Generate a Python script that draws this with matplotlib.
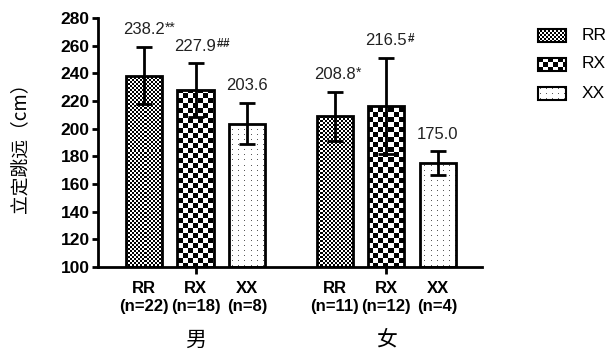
import numpy as np
import matplotlib
matplotlib.use("Agg")
import matplotlib.pyplot as plt
from matplotlib.patches import Rectangle
from matplotlib.transforms import blended_transform_factory

plt.rcParams['font.family'] = ['Liberation Sans', 'Noto Sans CJK SC', 'DejaVu Sans']
plt.rcParams['mathtext.fontset'] = 'custom'
plt.rcParams['mathtext.rm'] = 'Liberation Sans'
plt.rcParams['mathtext.bf'] = 'Liberation Sans:bold'

# ---------------- data ----------------
groups = ['男', '女']
genotypes = ['RR', 'RX', 'XX']
male_means = [238.2, 227.9, 203.6]
male_sd = [20.7, 19.3, 15.0]
male_n = [22, 18, 8]
male_marks = ['**', '##', '']
female_means = [208.8, 216.5, 175.0]
female_sd = [17.8, 34.8, 8.5]
female_n = [11, 12, 4]
female_marks = ['*', '#', '']
yticks = list(range(100, 281, 20))
ylabel = '立定跳远（cm）'

# ---------------- patterns ----------------
def checker(h, w, cell):
    yy, xx = np.mgrid[0:h, 0:w]
    return (((yy // cell) + (xx // cell)) % 2).astype(float)

def dots(h, w, sx, sy):
    a = np.ones((h, w))
    a[2::sy, 2::sx] = 0.35
    return a

W, H = 611, 351
fig = plt.figure(figsize=(W / 100, H / 100), dpi=100)
ax_l, ax_r, ax_t, ax_b = 98, 482, 18, 267
ax = fig.add_axes([ax_l / W, 1 - ax_b / H, (ax_r - ax_l) / W, (ax_b - ax_t) / H])
ax.xaxis.remove_overlapping_locs = False

pw, ph = ax_r - ax_l, ax_b - ax_t
patterns = {
    'RR': checker(ph, pw, 2),
    'RX': checker(ph, pw, 5),
    'XX': dots(ph, pw, 6, 5),
}

positions = [[0, 1, 2], [3.7, 4.7, 5.7]]
xlim = (-0.893, 6.56)
ylim = (100, 280)
ax.set_xlim(*xlim)
ax.set_ylim(*ylim)

all_means = [male_means, female_means]
all_sd = [male_sd, female_sd]
all_n = [male_n, female_n]
all_marks = [male_marks, female_marks]

for g in range(2):
    for i, gt in enumerate(genotypes):
        x = positions[g][i]
        m = all_means[g][i]
        s = all_sd[g][i]
        bar = ax.bar(x, m - ylim[0], bottom=ylim[0], width=0.7, facecolor='none',
                     edgecolor='black', linewidth=2.0, zorder=3)[0]
        im = ax.imshow(patterns[gt], cmap='gray', vmin=0, vmax=1, origin='upper',
                       extent=(xlim[0], xlim[1], ylim[0], ylim[1]), aspect='auto',
                       interpolation='nearest', zorder=2)
        im.set_clip_path(bar)
        ax.errorbar(x, m, yerr=s, fmt='none', ecolor='black', elinewidth=2.0,
                    capsize=6, capthick=2.0, zorder=4)
        t = ax.annotate(f'{m:.1f}', xy=(x, m + s), xytext=(0, 7), textcoords='offset points',
                        ha='center', va='bottom', fontsize=12, color='#222222')
        mk = all_marks[g][i]
        if mk:
            if '#' in mk:
                s_txt = r'$\mathbf{' + mk.replace('#', r'\#') + '}$'
                fs = 8.5
            else:
                s_txt = mk
                fs = 10
            ax.annotate(s_txt, xy=(1, 1), xycoords=t, xytext=(0, 1),
                        textcoords='offset points', ha='left', va='top',
                        fontsize=fs, color='#222222')

ax.set_aspect('auto')
ax.set_xlim(*xlim)
ax.set_ylim(*ylim)

for sp in ['top', 'right']:
    ax.spines[sp].set_visible(False)
for sp in ['left', 'bottom']:
    ax.spines[sp].set_linewidth(2.0)

ax.set_yticks(yticks)
ax.set_yticklabels([str(v) for v in yticks], fontsize=12.5, fontweight='bold')
ax.tick_params(axis='y', length=4, width=2, pad=2)

group_centers = [np.mean(p) for p in positions]
ax.set_xticks(group_centers)
ax.set_xticklabels(['', ''])
ax.tick_params(axis='x', which='major', length=5, width=2)
minor_pos = positions[0] + positions[1]
minor_lab = [f'{gt}\n(n={n})' for gt, n in zip(genotypes, male_n)] + \
            [f'{gt}\n(n={n})' for gt, n in zip(genotypes, female_n)]
ax.set_xticks(minor_pos, minor=True)
ax.set_xticklabels(minor_lab, minor=True, fontsize=12, fontweight='bold', linespacing=1.3)
ax.tick_params(axis='x', which='minor', length=0, pad=10)

trans = blended_transform_factory(ax.transData, fig.transFigure)
for gc, gname in zip(group_centers, groups):
    ax.text(gc, 1 - 340 / H, gname, transform=trans, ha='center', va='center',
            fontsize=15, family=['Noto Sans CJK SC', 'DejaVu Sans'])

fig.text(20 / W, 1 - 143 / H, ylabel, rotation=90, ha='center', va='center',
         fontsize=13.5, family=['Noto Sans CJK SC', 'DejaVu Sans'])

# ---------------- legend ----------------
lax = fig.add_axes([0, 0, 1, 1], zorder=5)
lax.set_xlim(0, W)
lax.set_ylim(H, 0)
lax.axis('off')
rows = [35, 64, 93]
for gt, yc in zip(genotypes, rows):
    x0, x1 = 538, 566
    y0, y1 = yc - 6.5, yc + 6.5
    pat = patterns[gt][:13, :28]
    lax.imshow(pat, cmap='gray', vmin=0, vmax=1, extent=(x0, x1, y1, y0),
               interpolation='nearest', aspect='auto', zorder=1)
    lax.add_patch(Rectangle((x0, y0), x1 - x0, y1 - y0, facecolor='none',
                            edgecolor='black', linewidth=1.5, zorder=2))
    lax.text(582, yc, gt, ha='left', va='center', fontsize=12.5)
lax.set_xlim(0, W)
lax.set_ylim(H, 0)

fig.savefig('out.png', dpi=100)
